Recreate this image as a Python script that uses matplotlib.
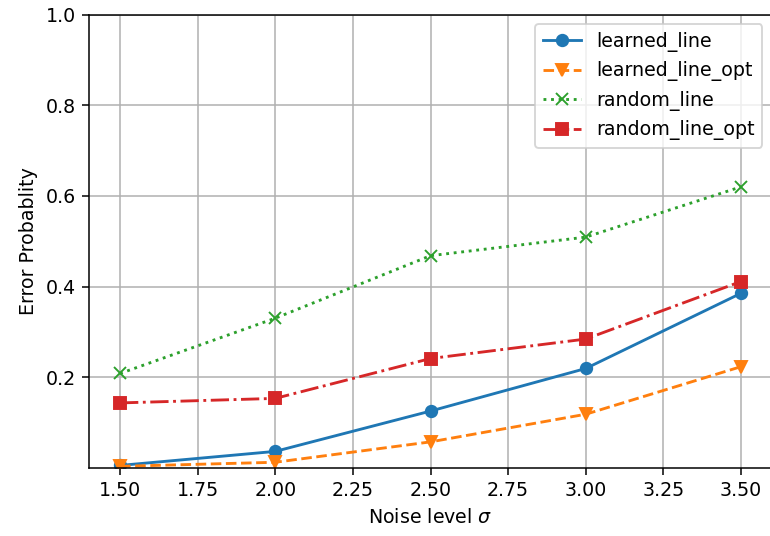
import matplotlib
matplotlib.use("Agg")
import matplotlib.pyplot as plt

noise = [1.5, 2.0, 2.5, 3.0, 3.5]
learned_line = [0.005, 0.036, 0.125, 0.219, 0.385]
learned_line_opt = [0.003, 0.012, 0.057, 0.118, 0.223]
random_line = [0.208, 0.330, 0.468, 0.509, 0.620]
random_line_opt = [0.143, 0.153, 0.241, 0.284, 0.411]
yticks = [0.2, 0.4, 0.6, 0.8, 1.0]

DPI = 137
fig = plt.figure(figsize=(770 / DPI, 536 / DPI), dpi=DPI)
ax = fig.add_axes([89 / 770, 1 - 467.7 / 536, (772 - 89) / 770, (467.7 - 14.7) / 536])
ax.plot(noise, learned_line, '-o', color='#1f77b4', label='learned_line')
ax.plot(noise, learned_line_opt, '--v', color='#ff7f0e', label='learned_line_opt')
ax.plot(noise, random_line, ':x', color='#2ca02c', label='random_line')
ax.plot(noise, random_line_opt, '-.s', color='#d62728', label='random_line_opt')
ax.set_ylim(0, 1.0)
ax.set_yticks(yticks)
ax.set_xlabel(r'Noise level $\sigma$')
ax.set_ylabel('Error Probablity')
ax.grid(True)
ax.legend(loc='upper right')
fig.savefig('out.png', dpi=DPI)
